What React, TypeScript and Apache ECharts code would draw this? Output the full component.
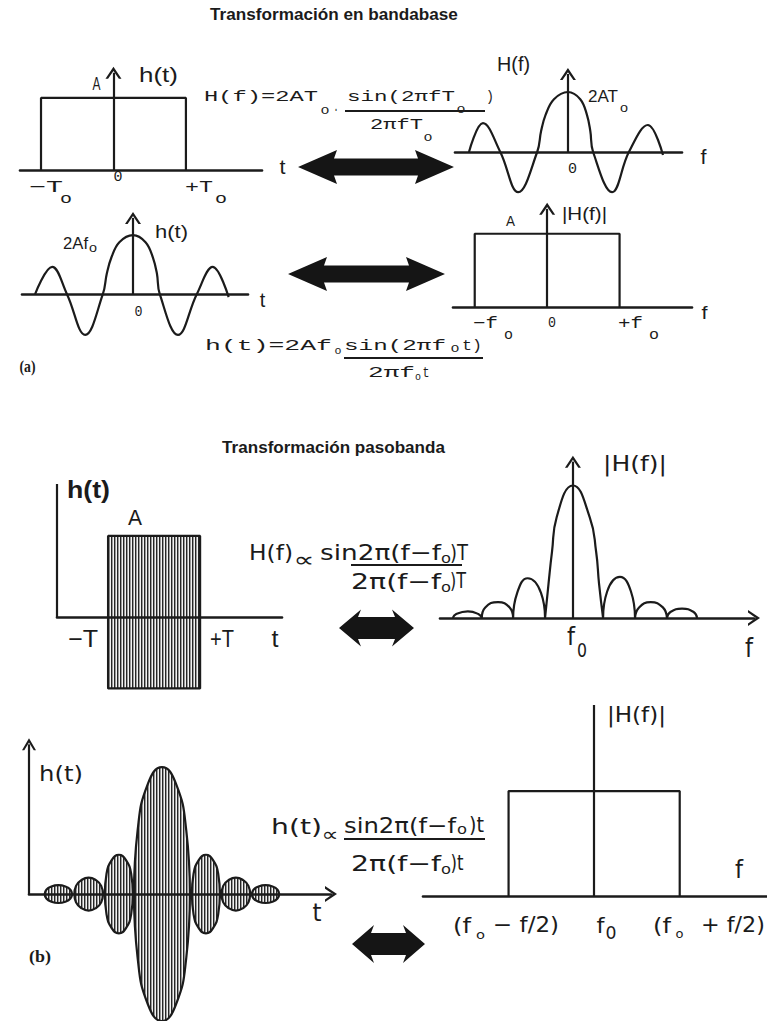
import React, { useEffect, useRef } from 'react';
import * as echarts from 'echarts';

const INK = '#1b1b1b';

// ---------- data ----------
// (a) bandabase: rectangular pulse h(t), t in units of T0, amplitude in units of A
const rectPulseA = [[-1, 0], [-1, 1], [1, 1], [1, 0]];
// H(f) = 2AT0 sinc, f in units of 1/T0, amplitude in units of 2AT0
const sincHf = [
  [-1.77, 0], [-1.52, 0.48], [-1.21, 0], [-0.89, -0.67], [-0.55, 0],
  [-0.48, 0.35], [-0.40, 0.62], [-0.25, 0.88], [0, 1], [0.22, 0.88], [0.34, 0.62], [0.40, 0.35],
  [0.45, 0], [0.79, -0.67], [1.09, 0], [1.43, 0.45], [1.70, -0.05],
];
// h(t) = 2Af0 sinc, t in units of 1/f0, amplitude in units of 2Af0
const sincHt = [
  [-1.72, 0], [-1.42, 0.46], [-1.16, 0], [-0.84, -0.69], [-0.53, 0],
  [-0.46, 0.35], [-0.38, 0.62], [-0.24, 0.88], [0, 1], [0.22, 0.88], [0.35, 0.62], [0.42, 0.35],
  [0.47, 0], [0.79, -0.69], [1.12, 0], [1.40, 0.46], [1.68, -0.05],
];
// |H(f)| rectangular spectrum, f in units of f0
const rectSpectrumA = [[-1, 0], [-1, 1], [1, 1], [1, 0]];
// (b) pasobanda: RF burst between -T and +T
const burstUpper = [[-1, 0], [-1, 1], [1, 1], [1, 0]];
const burstLower = [[-1, 0], [-1, -0.88], [1, -0.88], [1, 0]];
// |H(f)| lobes around f0, x = (f - f0)T
const sincMagLobes = [
  [-2.07, 0], [-2.01, 0.03], [-1.81, 0.05], [-1.63, 0.03], [-1.57, 0], [-1.57, null],
  [-1.57, 0], [-1.51, 0.08], [-1.29, 0.12], [-1.09, 0.08], [-1.03, 0], [-1.03, null],
  [-1.03, 0], [-0.96, 0.19], [-0.78, 0.30], [-0.55, 0.19], [-0.48, 0], [-0.48, null],
  [-0.48, 0], [-0.42, 0.26], [-0.36, 0.5], [-0.28, 0.76], [0, 1], [0.29, 0.76], [0.40, 0.5], [0.45, 0.26], [0.52, 0], [0.52, null],
  [0.52, 0], [0.59, 0.2], [0.81, 0.31], [1.0, 0.2], [1.07, 0], [1.07, null],
  [1.07, 0], [1.14, 0.08], [1.34, 0.12], [1.55, 0.08], [1.62, 0], [1.62, null],
  [1.62, 0], [1.68, 0.045], [1.88, 0.07], [2.08, 0.045], [2.14, 0],
];
// sinc-modulated carrier envelope (upper and lower halves)
const envUpper = [
  [-4.19, 0], [-4.13, 0.035], [-3.95, 0.06], [-3.70, 0.07], [-3.45, 0.06], [-3.27, 0.035], [-3.21, 0], [-3.21, null],
  [-3.13, 0], [-3.07, 0.065], [-2.88, 0.11], [-2.62, 0.13], [-2.36, 0.11], [-2.17, 0.065], [-2.11, 0], [-2.11, null],
  [-2.04, 0], [-1.98, 0.16], [-1.79, 0.27], [-1.54, 0.31], [-1.29, 0.27], [-1.10, 0.16], [-1.04, 0], [-1.04, null],
  [-1, 0], [-0.87, 0.5], [-0.5, 0.87], [0, 1], [0.5, 0.87], [0.87, 0.5], [1, 0], [1, null],
  [1.07, 0], [1.13, 0.16], [1.32, 0.27], [1.57, 0.31], [1.82, 0.27], [2.01, 0.16], [2.07, 0], [2.07, null],
  [2.13, 0], [2.19, 0.065], [2.38, 0.11], [2.64, 0.13], [2.90, 0.11], [3.09, 0.065], [3.15, 0], [3.15, null],
  [3.21, 0], [3.27, 0.035], [3.45, 0.06], [3.70, 0.07], [3.95, 0.06], [4.13, 0.035], [4.19, 0],
];
const envLower = [
  [-4.19, 0], [-4.13, -0.035], [-3.95, -0.06], [-3.70, -0.07], [-3.45, -0.06], [-3.27, -0.035], [-3.21, 0], [-3.21, null],
  [-3.13, 0], [-3.07, -0.065], [-2.88, -0.11], [-2.62, -0.13], [-2.36, -0.11], [-2.17, -0.065], [-2.11, 0], [-2.11, null],
  [-2.04, 0], [-1.98, -0.16], [-1.79, -0.27], [-1.54, -0.31], [-1.29, -0.27], [-1.10, -0.16], [-1.04, 0], [-1.04, null],
  [-1, 0], [-0.87, -0.5], [-0.5, -0.87], [0, -1], [0.5, -0.87], [0.87, -0.5], [1, 0], [1, null],
  [1.07, 0], [1.13, -0.16], [1.32, -0.27], [1.57, -0.31], [1.82, -0.27], [2.01, -0.16], [2.07, 0], [2.07, null],
  [2.13, 0], [2.19, -0.065], [2.38, -0.11], [2.64, -0.13], [2.90, -0.11], [3.09, -0.065], [3.15, 0], [3.15, null],
  [3.21, 0], [3.27, -0.035], [3.45, -0.06], [3.70, -0.07], [3.95, -0.06], [4.13, -0.035], [4.19, 0],
];
// ideal band-pass spectrum, f in units of half bandwidth around f0
const bandRect = [[-1, 0], [-1, 1], [1, 1], [1, 0]];

// ---------- layout ----------
const CHEV = 'path://M0,12L8,0L16,12L13.4,12L8,4.2L2.6,12Z';
const MONO = 'Liberation Mono';
const SANS = 'Liberation Sans';
const DJ = 'DejaVu Sans';
const SERIF = 'Liberation Serif';

const panels = [
  { left: 20, top: 67, width: 242, height: 103, xmin: -1.29, xmax: 2.05, ymin: 0, ymax: 1.43 },
  { left: 455, top: 68, width: 227, height: 132, xmin: -2.02, xmax: 2.04, ymin: -0.8, ymax: 1.4 },
  { left: 22, top: 212, width: 226, height: 133, xmin: -1.95, xmax: 2.02, ymin: -0.86, ymax: 1.39 },
  { left: 453, top: 203, width: 239, height: 104, xmin: -1.3, xmax: 2.0, ymin: 0, ymax: 1.42 },
  { left: 57, top: 484, width: 225, height: 206, xmin: -2.11, xmax: 2.78, ymin: -0.9, ymax: 1.64 },
  { left: 440, top: 455, width: 314, height: 163, xmin: -2.29, xmax: 3.12, ymin: 0, ymax: 1.23, arrow: true },
  { left: 29, top: 738, width: 302, height: 283, xmin: -4.75, xmax: 6.04, ymin: -1.0, ymax: 1.23, arrow: true },
  { left: 423, top: 705, width: 344, height: 191, xmin: -2.0, xmax: 2.02, ymin: 0, ymax: 1.82 },
];

type L = [string, number, number, number, number, string, string?];
const labels: L[] = [
  ['Transformación en bandabase', 334, 15, 248, 16, SANS, 'bold'],
  ['A', 96.5, 83.5, 8, 18, SANS],
  ['h(t)', 158.5, 75, 39, 20, SANS],
  ['−T', 46, 187.5, 34, 16, MONO],
  ['o', 66, 199, 12, 15, MONO],
  ['0', 118, 177.5, 9, 15, MONO],
  ['+T', 199, 187.5, 28, 16, MONO],
  ['o', 221, 199, 12, 15, MONO],
  ['t', 282.5, 167.5, 6, 21, SANS],
  ['H(f)=2AT', 261, 97, 114, 15, MONO],
  ['o', 325, 110, 9, 13, MONO],
  ['.', 336, 107, 5, 15, MONO],
  ['sin(2πfT', 401, 97, 108, 15, MONO],
  ['o', 461, 109, 9, 13, MONO],
  [')', 490, 97, 8, 15, MONO],
  ['2πfT', 396.5, 125, 53, 15, MONO],
  ['o', 428, 137, 9, 13, MONO],
  ['H(f)', 513.5, 64, 33, 20, SANS],
  ['2AT', 603, 96.5, 30, 17, SANS],
  ['o', 624, 108, 8, 12, SANS],
  ['0', 572.5, 169, 9, 15, MONO],
  ['f', 703.5, 157.5, 6, 21, SANS],
  ['2Af', 75.5, 243.5, 25, 17, SANS],
  ['o', 93, 248, 8, 12, SANS],
  ['h(t)', 171.5, 231, 33, 19, SANS],
  ['0', 138.5, 312, 8, 14, MONO],
  ['t', 262.5, 299.5, 5.5, 20, SANS],
  ['A', 510.5, 221, 9, 15, SANS],
  ['|H(f)|', 584.5, 213.5, 45, 19, SANS],
  ['−f', 485.5, 324, 25, 16, MONO],
  ['o', 508.5, 335, 9, 14, MONO],
  ['0', 552, 323, 8, 15, MONO],
  ['+f', 630.5, 324, 25, 16, MONO],
  ['o', 654, 335, 10, 14, MONO],
  ['f', 704.5, 312.5, 6, 19, SANS],
  ['h(t)=2Af', 268.5, 346, 127, 15, MONO],
  ['o', 338, 351, 7, 11, MONO],
  ['sin(2πf', 395, 346, 102, 15, MONO],
  ['o', 455, 349, 9, 12, MONO],
  ['t)', 472, 346, 20, 15, MONO],
  ['2πf', 391.5, 373, 47, 15, MONO],
  ['o', 418, 377, 6, 11, MONO],
  ['t', 426, 373, 7, 15, MONO],
  ['(a)', 27.5, 366.5, 16, 16, SERIF, 'bold'],

  ['Transformación pasobanda', 333.5, 448, 223, 16, SANS, 'bold'],
  ['h(t)', 88.5, 489, 43, 24, SANS, 'bold'],
  ['A', 135, 518, 14, 22, SANS],
  ['−T', 83, 639, 30, 24, SANS],
  ['+T', 222, 639, 24, 24, SANS],
  ['t', 275, 639, 7, 24, SANS],
  ['H(f)', 271, 552, 44, 22, DJ],
  ['∝', 304, 560, 21, 21, DJ],
  ['sin2π(f−f', 380.5, 552, 121, 22, DJ],
  ['o', 446, 558, 10, 14, DJ],
  [')T', 459, 552, 18, 22, DJ],
  ['2π(f−f', 396, 581, 90, 22, DJ],
  ['o', 446, 587, 10, 14, DJ],
  [')T', 458, 581, 16, 22, DJ],
  ['|H(f)|', 635, 464, 64, 22, DJ],
  ['f', 571, 637, 8, 24, DJ],
  ['0', 582, 650, 10, 19, DJ],
  ['f', 749, 648, 8, 26, DJ],
  ['h(t)', 61, 773, 44, 22, DJ],
  ['t', 317, 913, 9, 24, DJ],
  ['(b)', 40, 957, 22, 16, SERIF, 'bold'],
  ['h(t)', 296.5, 827, 51, 22, DJ],
  ['∝', 330, 834, 17, 19, DJ],
  ['sin2π(f−f', 400, 825, 112, 22, DJ],
  ['o', 462, 829, 10, 14, DJ],
  [')t', 476.5, 825, 15, 22, DJ],
  ['2π(f−f', 396, 863, 90, 22, DJ],
  ['o', 446, 869, 10, 14, DJ],
  [')t', 457, 863, 13, 22, DJ],
  ['|H(f)|', 636.5, 714, 59, 22, DJ],
  ['f', 739, 870, 8, 24, DJ],
  ['(f', 462, 925, 18, 22, DJ],
  ['o', 480.5, 934, 9, 13, DJ],
  ['− f/2)', 526, 925, 66, 21, DJ],
  ['f', 600.5, 925, 8, 22, DJ],
  ['0', 611, 933, 11, 17, DJ],
  ['(f', 662, 925, 18, 22, DJ],
  ['o', 679.5, 934, 8, 13, DJ],
  ['+ f/2)', 733, 925, 64, 21, DJ],
];

const fractionLines = [
  [345, 111, 485, 111],
  [344, 358, 483, 358],
  [351, 565, 462, 565],
  [344, 839, 485, 839],
];

function dblArrow(x0: number, x1: number, cy: number, head: number, hh: number, sh: number) {
  return [
    [x0, cy], [x0 + head, cy - hh], [x0 + head - 3, cy - sh], [x1 - head + 3, cy - sh], [x1 - head, cy - hh],
    [x1, cy], [x1 - head, cy + hh], [x1 - head + 3, cy + sh], [x0 + head - 3, cy + sh], [x0 + head, cy + hh],
  ];
}

export default function App() {
  const ref = useRef<HTMLDivElement>(null);
  useEffect(() => {
    document.body.style.margin = '0';
    const el = ref.current!;
    const chart = echarts.init(el, null, { renderer: 'svg' });

    const hc = document.createElement('canvas');
    hc.width = 3; hc.height = 3;
    const hg = hc.getContext('2d')!;
    hg.fillStyle = '#f2f2f2'; hg.fillRect(0, 0, 3, 3);
    hg.fillStyle = '#262626'; hg.fillRect(0, 0, 1, 3);
    hg.fillStyle = '#9a9a9a'; hg.fillRect(1, 0, 1, 3);
    const hatch: any = { image: hc.toDataURL(), repeat: 'repeat', imageWidth: 3, imageHeight: 3 };

    const mctx = document.createElement('canvas').getContext('2d')!;
    const txt = (l: L) => {
      const [s, cx, cy, w, size, fam, weight] = l;
      const font = `${weight || 'normal'} ${size}px "${fam}"`;
      mctx.font = font;
      const mw = mctx.measureText(s).width || 1;
      return {
        type: 'text', x: cx, y: cy, scaleX: w / mw, silent: true,
        style: { text: s, font, fill: INK, align: 'center', verticalAlign: 'middle' },
      };
    };

    const base = (i: number) => ({
      type: 'line', xAxisIndex: i, yAxisIndex: i, symbol: 'none', silent: true, clip: false,
      lineStyle: { color: INK, width: 2.2 }, z: 3,
    });
    const vAxis = (x: number, top: number, arrow: boolean, size: number[] = [16, 12]) => ({
      silent: true, symbol: 'none', label: { show: false }, emphasis: { disabled: true },
      lineStyle: { type: 'solid', color: INK, width: 2.2 },
      data: [[{ coord: [x, 0], symbol: 'none' }, { coord: [x, top], symbol: arrow ? CHEV : 'none', symbolSize: size }]],
    });

    const option: any = {
      animation: false,
      backgroundColor: '#ffffff',
      grid: panels.map((p) => ({ left: p.left, top: p.top, width: p.width, height: p.height, containLabel: false, show: false })),
      xAxis: panels.map((p, i) => ({
        type: 'value', gridIndex: i, min: p.xmin, max: p.xmax, z: 5,
        axisLine: { show: true, onZero: true, lineStyle: { color: INK, width: 2.6 }, symbol: p.arrow ? ['none', CHEV] : 'none', symbolSize: [16, 12] },
        axisTick: { show: false }, axisLabel: { show: false }, splitLine: { show: false },
      })),
      yAxis: panels.map((p, i) => ({
        type: 'value', gridIndex: i, min: p.ymin, max: p.ymax, show: false, splitLine: { show: false },
      })),
      series: [
        { ...base(0), data: rectPulseA, markLine: vAxis(0, 1.35, true) },
        { ...base(1), data: sincHf, smooth: 0.4, markLine: vAxis(0, 1.30, true) },
        { ...base(2), data: sincHt, smooth: 0.4, markLine: vAxis(0, 1.29, true) },
        { ...base(3), data: rectSpectrumA, markLine: vAxis(0, 1.34, true) },
        { ...base(4), data: burstUpper, areaStyle: { color: hatch, opacity: 1 }, markLine: vAxis(-2.11, 1.64, false) },
        { ...base(4), data: burstLower, areaStyle: { color: hatch, opacity: 1 } },
        { ...base(5), data: sincMagLobes, smooth: 0.5, markLine: vAxis(0, 1.18, true) },
        { ...base(6), data: envUpper, smooth: 0.5, areaStyle: { color: hatch, opacity: 1 }, markLine: vAxis(-4.75, 1.18, true, [14, 12]) },
        { ...base(6), data: envLower, smooth: 0.5, areaStyle: { color: hatch, opacity: 1 } },
        { ...base(7), data: bandRect, markLine: vAxis(0, 1.82, false) },
      ],
      graphic: [
        ...fractionLines.map(([x1, y1, x2, y2]) => ({
          type: 'line', silent: true, shape: { x1, y1, x2, y2 }, style: { stroke: INK, lineWidth: 1.8 },
        })),
        ...[
          dblArrow(298, 454, 167, 39, 17, 8.5),
          dblArrow(288, 445, 274, 39, 17, 8.5),
          dblArrow(339, 414, 628, 22, 18.5, 11),
          dblArrow(352, 425, 944, 22, 19, 11),
        ].map((points) => ({ type: 'polygon', silent: true, shape: { points }, style: { fill: '#151515' } })),
        ...labels.map(txt),
      ],
    };
    chart.setOption(option);
    return () => chart.dispose();
  }, []);
  return <div ref={ref} style={{ width: 767, height: 1021 }} />;
}
